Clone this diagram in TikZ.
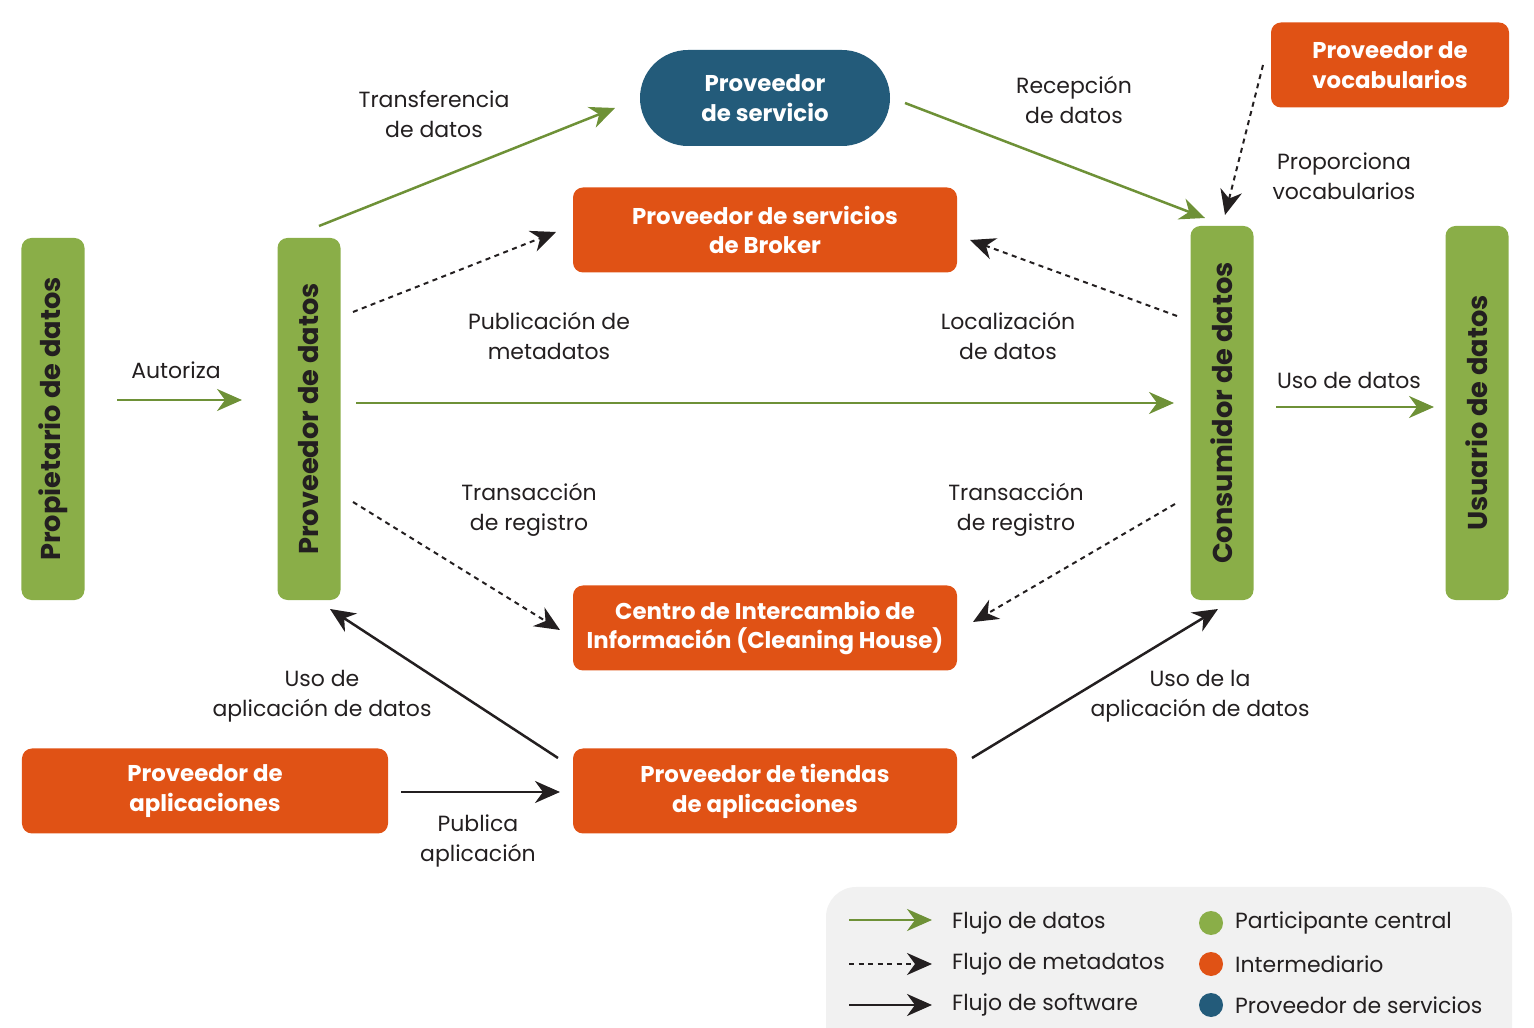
\documentclass[tikz,border=0pt]{standalone}
\usepackage{fontspec}
\setmainfont{Poppins}
\usetikzlibrary{positioning, arrows.meta, calc}

\definecolor{verde}{HTML}{8AAE48}
\definecolor{verdeflecha}{HTML}{6E9137}
\definecolor{naranja}{HTML}{E05215}
\definecolor{azul}{HTML}{235B7A}
\definecolor{fondo}{HTML}{F1F1F1}
\definecolor{negro}{HTML}{231F20}

\begin{document}
\begin{tikzpicture}[x=0.2mm, y=-0.2mm,
    caja/.style={rounded corners=2mm, fill=naranja, text=white, align=center,
        font=\bfseries\fontsize{13}{17}\selectfont, minimum width=76.8mm, minimum height=17mm},
    actor/.style={rounded corners=2mm, fill=verde, text=negro, rotate=90,
        font=\bfseries\fontsize{15.5}{18}\selectfont, minimum height=12.6mm},
    etiqueta/.style={align=center, text=negro, font=\fontsize{12.5}{17}\selectfont},
    datos/.style={draw=verdeflecha, line width=0.5mm, -{Stealth[length=5mm, width=4.4mm, inset=1.6mm]}},
    meta/.style={draw=negro, line width=0.4mm, dash pattern=on 1mm off 0.9mm,
        -{Stealth[length=5mm, width=4.4mm, inset=1.6mm]}},
    soft/.style={draw=negro, line width=0.5mm, -{Stealth[length=5mm, width=4.4mm, inset=1.6mm]}}
]
    \useasboundingbox (0,0) rectangle (1534,1028);

    % participantes centrales
    \node[actor, minimum width=72.4mm] (propietario) at (53,419) {Propietario de datos};
    \node[actor, minimum width=72.4mm] (proveedor) at (309,419) {Proveedor de datos};
    \node[actor, minimum width=74.8mm] (consumidor) at (1222,413) {Consumidor de datos};
    \node[actor, minimum width=74.8mm] (usuario) at (1477,413) {Usuario de datos};

    % intermediarios
    \node[caja, rounded corners=9.6mm, fill=azul, minimum width=50mm, minimum height=19.2mm] (servicio) at (765,98) {Proveedor\\de servicio};
    \node[caja] (broker) at (765,230) {Proveedor de servicios\\de Broker};
    \node[caja] (centro) at (765,628) {Centro de Intercambio de\\Información (Cleaning House)};
    \node[caja] (tiendas) at (765,791) {Proveedor de tiendas\\de aplicaciones};
    \node[caja, minimum width=73.2mm] (aplicaciones) at (205,791) {Proveedor de\\aplicaciones};
    \node[caja, minimum width=47.6mm] (vocabularios) at (1390,65) {Proveedor de\\vocabularios};

    % puntos de las flechas
    \coordinate (a1) at (117,400);  \coordinate (a2) at (242,400);
    \coordinate (t1) at (319,226);  \coordinate (t2) at (615,108);
    \coordinate (r1) at (905,103);  \coordinate (r2) at (1205,218);
    \coordinate (v1) at (1263,65);  \coordinate (v2) at (1225,215);
    \coordinate (p1) at (353,312);  \coordinate (p2) at (556,232);
    \coordinate (l1) at (1177,316); \coordinate (l2) at (970,240);
    \coordinate (d1) at (356,403);  \coordinate (d2) at (1174,403);
    \coordinate (u1) at (1276,407); \coordinate (u2) at (1434,407);
    \coordinate (x1) at (353,502);  \coordinate (x2) at (560,630);
    \coordinate (y1) at (1175,504); \coordinate (y2) at (973,622);
    \coordinate (s1) at (558,758);  \coordinate (s2) at (330,609);
    \coordinate (z1) at (972,758);  \coordinate (z2) at (1218,609);
    \coordinate (b1) at (401,792);  \coordinate (b2) at (560,792);

    % flujo de datos
    \draw[datos] (a1) -- (a2);
    \draw[datos] (t1) -- (t2);
    \draw[datos] (r1) -- (r2);
    \draw[datos] (d1) -- (d2);
    \draw[datos] (u1) -- (u2);

    % flujo de metadatos
    \draw[meta] (v1) -- (v2);
    \draw[meta] (p1) -- (p2);
    \draw[meta] (l1) -- (l2);
    \draw[meta] (x1) -- (x2);
    \draw[meta] (y1) -- (y2);

    % flujo de software
    \draw[soft] (s1) -- (s2);
    \draw[soft] (z1) -- (z2);
    \draw[soft] (b1) -- (b2);

    % etiquetas
    \node[etiqueta] (autoriza) at (176,370) {Autoriza};
    \node[etiqueta] (transferencia) at (434,114) {Transferencia\\de datos};
    \node[etiqueta] (recepcion) at (1074,100) {Recepción\\de datos};
    \node[etiqueta] (proporciona) at (1344,176) {Proporciona\\vocabularios};
    \node[etiqueta] (publicacion) at (549,336) {Publicación de\\metadatos};
    \node[etiqueta] (localizacion) at (1008,336) {Localización\\de datos};
    \node[etiqueta] (uso) at (1349,380) {Uso de datos};
    \node[etiqueta] (transaccion1) at (529,510) {Transacción\\de registro};
    \node[etiqueta] (transaccion2) at (1016,510) {Transacción\\de registro};
    \node[etiqueta] (usoapp1) at (322,696) {Uso de\\aplicación de datos};
    \node[etiqueta] (usoapp2) at (1200,696) {Uso de la\\aplicación de datos};
    \node[etiqueta] (publica) at (478,841) {Publica\\aplicación};

    % leyenda
    \fill[fondo, rounded corners=6mm] (826,887) rectangle (1512,1060);
    \coordinate (g1) at (849,920);  \coordinate (g2) at (932,920);
    \coordinate (m1) at (849,964);  \coordinate (m2) at (932,964);
    \coordinate (k1) at (849,1005); \coordinate (k2) at (932,1005);
    \draw[datos] (g1) -- (g2);
    \draw[meta] (m1) -- (m2);
    \draw[soft] (k1) -- (k2);
    \node[etiqueta, anchor=west] (ley1) at (946,923) {Flujo de datos};
    \node[etiqueta, anchor=west] (ley2) at (946,964) {Flujo de metadatos};
    \node[etiqueta, anchor=west] (ley3) at (946,1005) {Flujo de software};
    \foreach \y/\col/\txt in {923/verde/Participante central, 964/naranja/Intermediario, 1005/azul/Proveedor de servicios}{
        \fill[\col] (1211,\y) circle (2.4mm);
        \node[etiqueta, anchor=west] at (1229,\y) {\txt};
    }
\end{tikzpicture}
\end{document}
